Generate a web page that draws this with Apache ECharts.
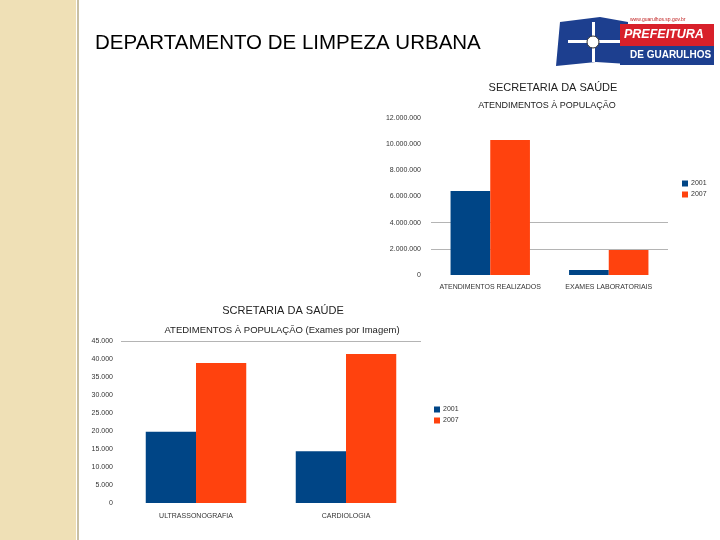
<!DOCTYPE html>
<html><head><meta charset="utf-8">
<script src="https://cdn.jsdelivr.net/npm/echarts@6/dist/echarts.min.js"></script>
<style>html,body{margin:0;padding:0;background:#fff}#c{width:720px;height:540px}</style>
</head><body><div id="c"></div>
<script>
const cats1 = ['ATENDIMENTOS REALIZADOS', 'EXAMES LABORATORIAIS'];
const s1_2001 = [6420000, 380000];
const s1_2007 = [10320000, 1910000];
const cats2 = ['ULTRASSONOGRAFIA', 'CARDIOLOGIA'];
const s2_2001 = [19800, 14400];
const s2_2007 = [38900, 41400];
const years = ['2001', '2007'];

const fmt = v => String(v).replace(/\B(?=(\d{3})+(?!\d))/g, '.');
const ff = 'Liberation Sans, Arial, sans-serif';
const blue = '#004586', orange = '#ff420e';
const lbl = { color: '#333', fontSize: 7, fontFamily: ff };
const T = 'rgba(0,0,0,0)';

const chart = echarts.init(document.getElementById('c'));
chart.setOption({
  animation: false,
  backgroundColor: '#fff',
  graphic: [
    { type: 'rect', shape: { x: 0, y: 0, width: 76, height: 540 }, style: { fill: '#efe0b6' }, z: -1 },
    { type: 'rect', shape: { x: 77, y: 0, width: 2, height: 540 }, style: { fill: '#c9c0a4' }, z: -1 },
    { type: 'text', left: 95, top: 33, style: { text: 'DEPARTAMENTO DE LIMPEZA URBANA', font: '20.5px ' + ff, fill: '#000' } },
    // logo
    { type: 'polygon', shape: { points: [[560, 22], [600, 17], [628, 22], [628, 64], [596, 62], [556, 66]] }, style: { fill: '#1d3f8f' } },
    { type: 'rect', shape: { x: 568, y: 40, width: 52, height: 3 }, style: { fill: '#fff' } },
    { type: 'rect', shape: { x: 592, y: 22, width: 3, height: 40 }, style: { fill: '#fff' } },
    { type: 'circle', shape: { cx: 593, cy: 42, r: 6 }, style: { fill: '#fff', stroke: '#333', lineWidth: 1 } },
    { type: 'rect', shape: { x: 620, y: 24, width: 94, height: 22 }, style: { fill: '#d8202a' } },
    { type: 'rect', shape: { x: 620, y: 46, width: 94, height: 19 }, style: { fill: '#1d3f8f' } },
    { type: 'text', left: 630, top: 17, style: { text: 'www.guarulhos.sp.gov.br', font: '5px ' + ff, fill: '#c02020' } },
    { type: 'text', left: 624, top: 28, style: { text: 'PREFEITURA', font: 'italic bold 12.5px ' + ff, fill: '#fff' } },
    { type: 'text', left: 630, top: 50, style: { text: 'DE GUARULHOS', font: 'bold 10px ' + ff, fill: '#fff' } }
  ],
  title: [
    { text: 'SECRETARIA DA SAÚDE', left: 548, top: 77, textAlign: 'center', textStyle: { fontSize: 11, fontWeight: 'normal', color: '#222', fontFamily: ff } },
    { text: 'ATENDIMENTOS À POPULAÇÃO', left: 542, top: 96, textAlign: 'center', textStyle: { fontSize: 9, fontWeight: 'normal', color: '#222', fontFamily: ff } },
    { text: 'SCRETARIA DA SAÚDE', left: 278, top: 300, textAlign: 'center', textStyle: { fontSize: 11, fontWeight: 'normal', color: '#222', fontFamily: ff } },
    { text: 'ATEDIMENTOS À POPULAÇÃO (Exames por Imagem)', left: 277, top: 320, textAlign: 'center', textStyle: { fontSize: 9.5, fontWeight: 'normal', color: '#222', fontFamily: ff } }
  ],
  legend: [
    { data: years, left: 677, top: 175, orient: 'vertical', itemWidth: 6, itemHeight: 6, itemGap: 4, icon: 'rect', textStyle: { fontSize: 7, color: '#333', fontFamily: ff, padding: [0, 0, 0, -2] } },
    { data: years, left: 429, top: 401, orient: 'vertical', itemWidth: 6, itemHeight: 6, itemGap: 4, icon: 'rect', textStyle: { fontSize: 7, color: '#333', fontFamily: ff, padding: [0, 0, 0, -2] } }
  ],
  grid: [
    { left: 431, right: 52, top: 118, bottom: 265 },
    { left: 121, right: 299, top: 341, bottom: 37 }
  ],
  xAxis: [
    { type: 'category', gridIndex: 0, data: cats1, axisLine: { show: false }, axisTick: { show: false }, axisLabel: Object.assign({ margin: 9, interval: 0 }, lbl) },
    { type: 'category', gridIndex: 1, data: cats2, axisLine: { show: false }, axisTick: { show: false }, axisLabel: Object.assign({ margin: 10, interval: 0 }, lbl) }
  ],
  yAxis: [
    { type: 'value', gridIndex: 0, min: 0, max: 12000000, interval: 2000000, axisLine: { show: false }, axisTick: { show: false },
      axisLabel: Object.assign({ formatter: fmt, margin: 10 }, lbl),
      splitLine: { lineStyle: { color: [T, '#b4b4b4', '#b4b4b4', T, T, T, T] } } },
    { type: 'value', gridIndex: 1, min: 0, max: 45000, interval: 5000, axisLine: { show: false }, axisTick: { show: false },
      axisLabel: Object.assign({ formatter: fmt, margin: 8 }, lbl),
      splitLine: { lineStyle: { color: [T, T, T, T, T, T, T, T, T, '#b4b4b4'] } } }
  ],
  series: [
    { name: '2001', type: 'bar', xAxisIndex: 0, yAxisIndex: 0, data: s1_2001, itemStyle: { color: blue }, barGap: '0%', barCategoryGap: '33%' },
    { name: '2007', type: 'bar', xAxisIndex: 0, yAxisIndex: 0, data: s1_2007, itemStyle: { color: orange } },
    { name: '2001', type: 'bar', xAxisIndex: 1, yAxisIndex: 1, data: s2_2001, itemStyle: { color: blue }, barGap: '0%', barCategoryGap: '33%' },
    { name: '2007', type: 'bar', xAxisIndex: 1, yAxisIndex: 1, data: s2_2007, itemStyle: { color: orange } }
  ]
});
</script></body></html>
